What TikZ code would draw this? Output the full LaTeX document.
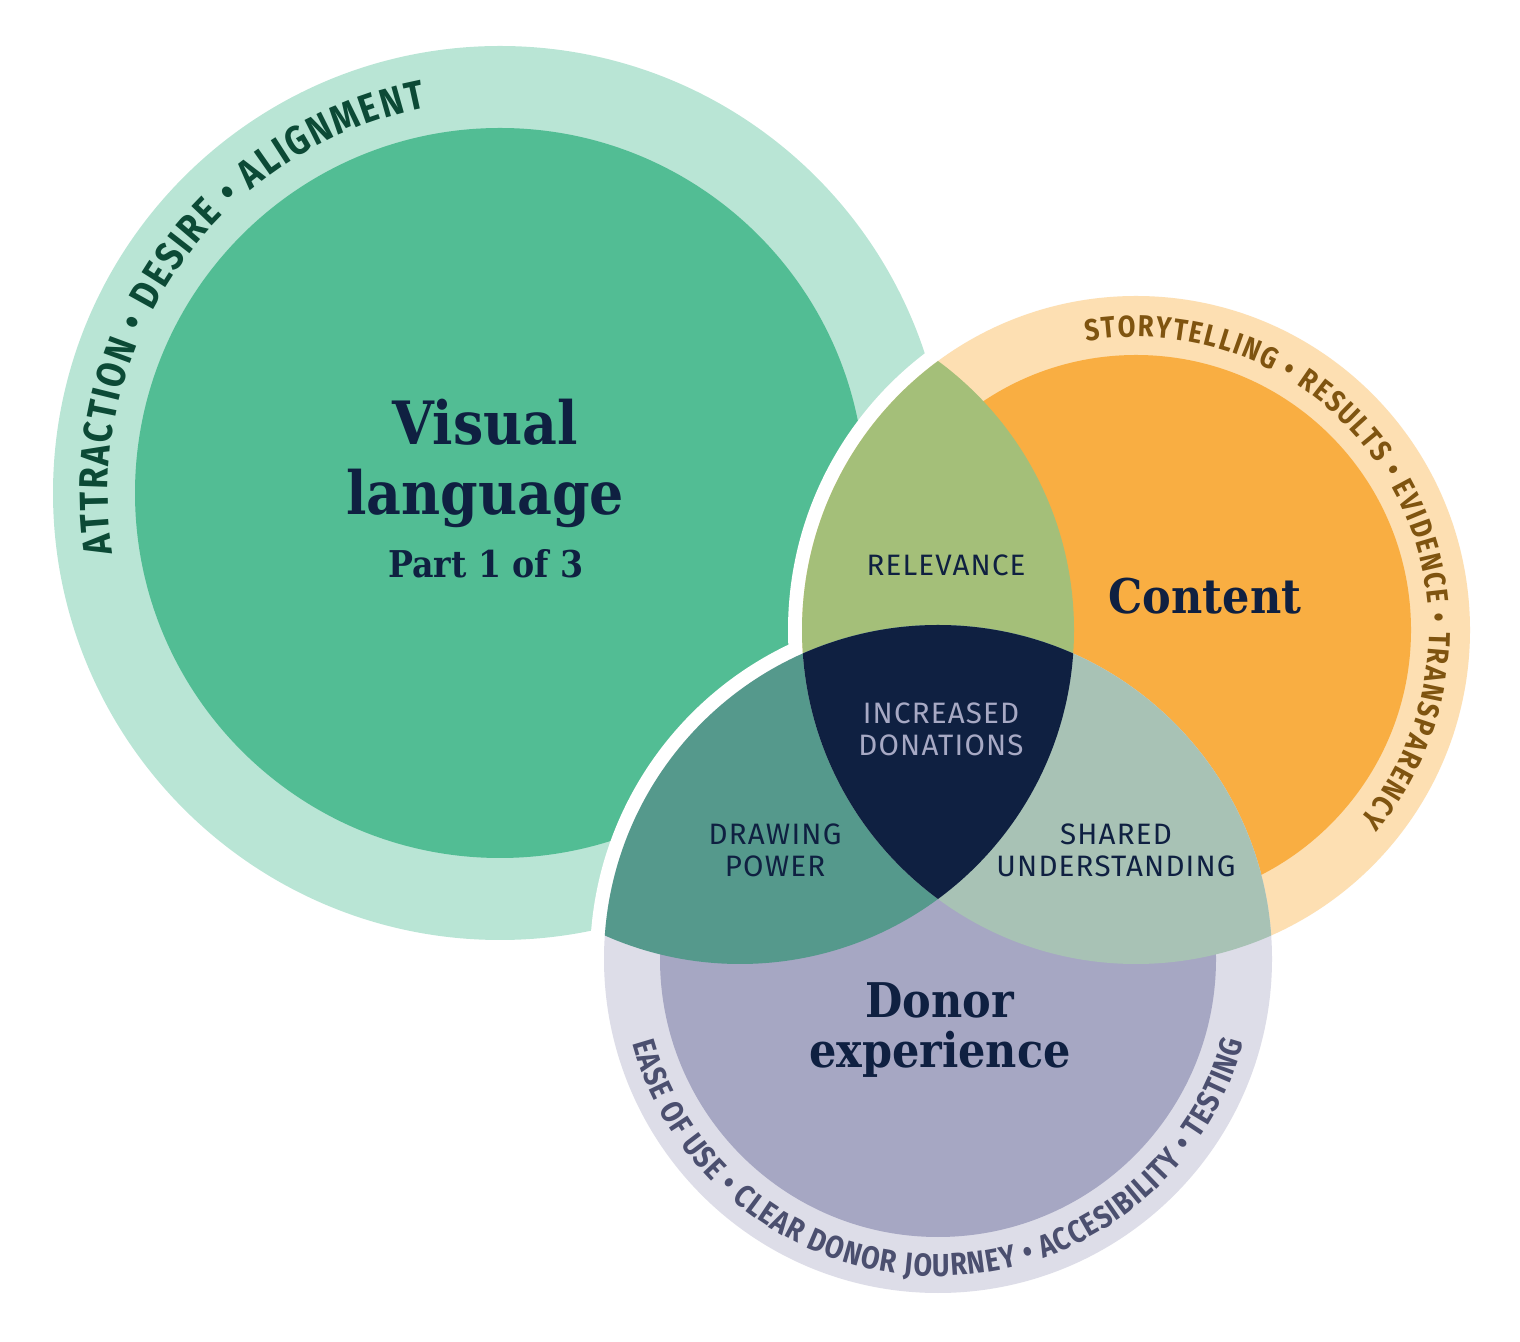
\documentclass[tikz,border=0pt]{standalone}
\usepackage{fontspec}
\usetikzlibrary{decorations.text}
\newfontfamily\ttlfont[FakeStretch=0.9]{DejaVu Serif}
\newfontfamily\lblfont[LetterSpace=4]{Fira Sans}
\newfontfamily\ringfont[FakeStretch=0.85]{Fira Sans}
\definecolor{vlring}{HTML}{B9E5D5}
\definecolor{vlcore}{HTML}{52BD94}
\definecolor{vltext}{HTML}{0C4A36}
\definecolor{ctring}{HTML}{FDDFB2}
\definecolor{ctcore}{HTML}{F9AE42}
\definecolor{cttext}{HTML}{7F5410}
\definecolor{dnring}{HTML}{DDDDE8}
\definecolor{dncore}{HTML}{A6A7C3}
\definecolor{dntext}{HTML}{4B4F6F}
\definecolor{lensab}{HTML}{A4BF79}
\definecolor{lensbc}{HTML}{A8C2B5}
\definecolor{lensac}{HTML}{55998C}
\definecolor{navy}{HTML}{0F2041}
\definecolor{paletxt}{HTML}{A7A9C4}

\begin{document}
\begin{tikzpicture}[x=0.1mm,y=0.1mm]
\tikzstyle{ttl}=[inner sep=0pt, anchor=base, text=navy, font=\ttlfont\bfseries\fontsize{13.6}{16}\selectfont]
\tikzstyle{lbl}=[inner sep=0pt, align=center, text=navy, font=\lblfont\fontsize{8.4}{9.1}\selectfont]
\useasboundingbox (0,0) rectangle (1520,1341);
\coordinate (V) at (500,848);
\coordinate (A) at (740,711);
\coordinate (B) at (1136,711);
\coordinate (C) at (938,382);

\fill[vlring] (V) circle (447);
\fill[vlcore] (V) circle (365);
\draw[white, line width=2.8mm] (B) circle (334) (C) circle (334);
\fill[ctring] (B) circle (334);
\fill[ctcore] (B) circle (275);
\fill[dnring] (C) circle (334);
\fill[dncore] (C) circle (278);
% overlaps
\begin{scope}
  \clip (A) circle (334);
  \fill[lensab] (B) circle (334);
  \fill[lensac] (C) circle (334);
\end{scope}
\begin{scope}
  \clip (B) circle (334);
  \fill[lensbc] (C) circle (334);
\end{scope}
\begin{scope}
  \clip (A) circle (334);
  \clip (B) circle (334);
  \fill[navy] (C) circle (334);
\end{scope}

% ring texts
\path[decorate, decoration={text along path, text align=center,
  text={|\ringfont\bfseries\fontsize{11.5}{13}\selectfont\color{vltext}\kern0.6pt|ATTRACTION • DESIRE • ALIGNMENT}}]
  ([shift={(215:392)}]V) arc[start angle=215, end angle=75, radius=392];
\path[decorate, decoration={text along path, text align=center,
  text={|\ringfont\bfseries\fontsize{8.6}{10}\selectfont\color{cttext}\kern0.5pt|STORYTELLING • RESULTS • EVIDENCE • TRANSPARENCY}}]
  ([shift={(120:293)}]B) arc[start angle=120, end angle=-60, radius=293];
\path[decorate, decoration={text along path, text align=center,
  text={|\ringfont\bfseries\fontsize{9}{10}\selectfont\color{dntext}\kern0.3pt|EASE OF USE • CLEAR DONOR JOURNEY • ACCESIBILITY • TESTING}}]
  ([shift={(170:317)}]C) arc[start angle=170, end angle=370, radius=317];

\node[ttl, font=\ttlfont\bfseries\fontsize{17}{20}\selectfont] (vis) at (485,896) {Visual};
\node[ttl, font=\ttlfont\bfseries\fontsize{17}{20}\selectfont] (lang) at (485,826) {language};
\node[ttl, font=\ttlfont\bfseries\fontsize{10.5}{12}\selectfont] (part) at (486,763) {Part 1 of 3};
\node[ttl] (cont) at (1205,727) {Content};
\node[ttl] (don) at (940,323) {Donor};
\node[ttl] (exp) at (940,273) {experience};

\node[lbl] (rel) at (946,776) {RELEVANCE};
\node[lbl, text=paletxt] (inc) at (941,612) {INCREASED\\DONATIONS};
\node[lbl] (drw) at (775,491) {DRAWING\\POWER};
\node[lbl] (shr) at (1116,491) {SHARED\\UNDERSTANDING};
\end{tikzpicture}
\end{document}
